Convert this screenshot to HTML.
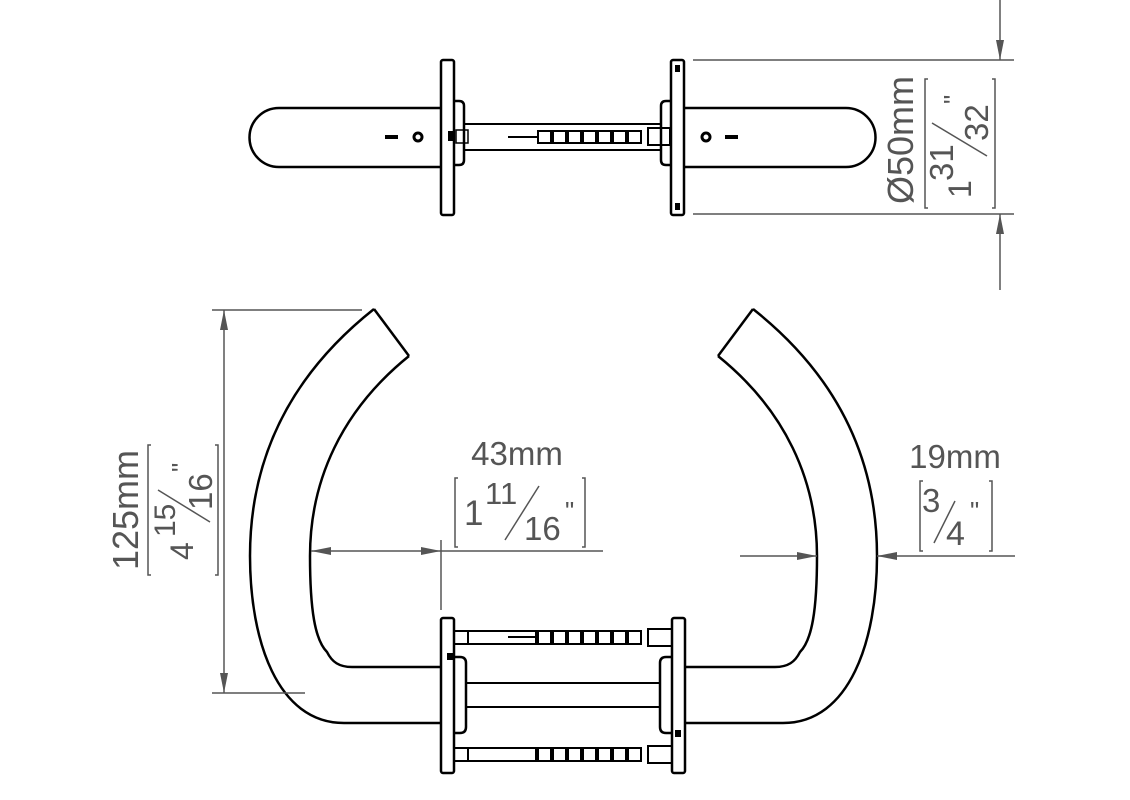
<!DOCTYPE html>
<html><head><meta charset="utf-8"><style>
html,body{margin:0;padding:0;background:#fff;}
svg{display:block;}
text{font-family:"Liberation Sans",sans-serif;fill:#555;}
</style></head><body>
<svg width="1130" height="800" viewBox="0 0 1130 800" xmlns="http://www.w3.org/2000/svg">
<defs>
<marker id="ar" viewBox="0 0 20 8" refX="20" refY="4" markerWidth="20" markerHeight="8" markerUnits="userSpaceOnUse" orient="auto"><path d="M0,0 L20,4 L0,8 z" fill="#555"/></marker>
</defs>

<!-- TOP VIEW -->
<g fill="none" stroke="#000" stroke-width="2.5">
  <path d="M441,108 L279,108 A29.5,29.5 0 0 0 279,167 L441,167"/>
  <path d="M684,108 L846,108 A29.5,29.5 0 0 1 846,167 L684,167"/>
  <rect x="441" y="60" width="13" height="155" rx="2"/>
  <rect x="671" y="60" width="13" height="155" rx="2"/>
  <path d="M454,101 L459,101 Q464,101 464,106 L464,160 Q464,165 459,165 L454,165"/>
  <path d="M671,101 L666,101 Q661,101 661,106 L661,160 Q661,165 666,165 L671,165"/>
  <line x1="464" y1="124" x2="661" y2="124" stroke-width="2"/>
  <line x1="464" y1="150" x2="661" y2="150" stroke-width="2"/>
  <rect x="456" y="130" width="12" height="13" stroke-width="1.5"/>
  <rect x="648" y="128" width="22" height="17" stroke-width="2"/>
  <line x1="508" y1="137" x2="538" y2="137" stroke-width="2"/>
  <g stroke-width="2">
    <rect x="538" y="131" width="13" height="12"/><rect x="553" y="131" width="13" height="12"/>
    <rect x="568" y="131" width="13" height="12"/><rect x="583" y="131" width="13" height="12"/>
    <rect x="598" y="131" width="13" height="12"/><rect x="613" y="131" width="13" height="12"/>
    <rect x="628" y="131" width="13" height="12"/>
  </g>
  <circle cx="418" cy="137" r="4" stroke-width="3"/>
  <circle cx="706" cy="137" r="4" stroke-width="3"/>
</g>
<g fill="#000">
  <rect x="385" y="135" width="13" height="4"/>
  <rect x="725" y="135" width="13" height="4"/>
  <rect x="448" y="131" width="6" height="10"/>
  <rect x="675" y="65" width="5" height="7"/>
  <rect x="675" y="203" width="5" height="7"/>
</g>

<!-- Ø50 dimension -->
<g stroke="#555" stroke-width="1.5" fill="none">
  <line x1="693" y1="60" x2="1014" y2="60"/>
  <line x1="693" y1="214" x2="1014" y2="214"/>
  <line x1="1000" y1="0" x2="1000" y2="60" marker-end="url(#ar)"/>
  <line x1="1000" y1="290" x2="1000" y2="214" marker-end="url(#ar)"/>
  <path d="M928,79 L925,79 L925,208 L928,208"/>
  <path d="M992,79 L995,79 L995,208 L992,208"/>
  <line x1="932" y1="123" x2="987" y2="156"/>
</g>
<text transform="translate(913,140) rotate(-90)" text-anchor="middle" font-size="36">Ø50mm</text>
<text transform="translate(971,198) rotate(-90)" font-size="32">1</text>
<text transform="translate(953,181) rotate(-90)" font-size="33">31</text>
<text transform="translate(988,141) rotate(-90)" font-size="33">32</text>
<text transform="translate(962,104) rotate(-90)" font-size="26">"</text>

<!-- BOTTOM VIEW handles -->
<g fill="none" stroke="#000" stroke-width="2.5">
  <g>
    <path d="M753,309 C830,370 877,450 877,556 C877,640 850,723 783,723 L686,723"/>
    <path d="M718,356 C785,410 817,480 817,556 C817,610 812,640 800,652 C795,662 788,667 775,667 L686,667"/>
    <path d="M753,309 L718,356"/>
  </g>
  <g transform="translate(1127,0) scale(-1,1)">
    <path d="M753,309 C830,370 877,450 877,556 C877,640 850,723 783,723 L686,723"/>
    <path d="M718,356 C785,410 817,480 817,556 C817,610 812,640 800,652 C795,662 788,667 775,667 L686,667"/>
    <path d="M753,309 L718,356"/>
  </g>
  <rect x="441" y="618" width="13" height="155" rx="2" fill="#fff"/>
  <rect x="672" y="618" width="13" height="155" rx="2" fill="#fff"/>
  <path d="M454,657 L460,657 Q466,657 466,663 L466,727 Q466,733 460,733 L454,733"/>
  <path d="M672,657 L666,657 Q660,657 660,663 L660,727 Q660,733 666,733 L672,733"/>
  <line x1="466" y1="683" x2="660" y2="683" stroke-width="2"/>
  <line x1="466" y1="707" x2="660" y2="707" stroke-width="2"/>
  <g stroke-width="2">
    <rect x="454" y="631" width="14" height="13"/>
    <rect x="468" y="631" width="68" height="13"/>
    <rect x="648" y="629" width="24" height="17"/>
    <rect x="454" y="748" width="14" height="13"/>
    <rect x="468" y="748" width="68" height="13"/>
    <rect x="648" y="746" width="24" height="17"/>
  </g>
  <line x1="508" y1="637" x2="538" y2="637" stroke-width="2"/>
  <g stroke-width="2">
    <rect x="538" y="631" width="13" height="13"/><rect x="553" y="631" width="13" height="13"/>
    <rect x="568" y="631" width="13" height="13"/><rect x="583" y="631" width="13" height="13"/>
    <rect x="598" y="631" width="13" height="13"/><rect x="613" y="631" width="13" height="13"/>
    <rect x="628" y="631" width="13" height="13"/>
    <rect x="538" y="748" width="13" height="13"/><rect x="553" y="748" width="13" height="13"/>
    <rect x="568" y="748" width="13" height="13"/><rect x="583" y="748" width="13" height="13"/>
    <rect x="598" y="748" width="13" height="13"/><rect x="613" y="748" width="13" height="13"/>
    <rect x="628" y="748" width="13" height="13"/>
  </g>
</g>
<g fill="#000">
  <rect x="447" y="653" width="6" height="7"/>
  <rect x="675" y="730" width="6" height="7"/>
</g>

<g stroke="#555" stroke-width="1.5" fill="none">
  <line x1="212" y1="310" x2="362" y2="310"/>
  <line x1="212" y1="693" x2="305" y2="693"/>
  <line x1="224" y1="420" x2="224" y2="310" marker-end="url(#ar)"/>
  <line x1="224" y1="600" x2="224" y2="693" marker-end="url(#ar)"/>
  <line x1="224" y1="420" x2="224" y2="600"/>
  <path d="M151,445 L148,445 L148,575 L151,575"/>
  <path d="M215,445 L218,445 L218,575 L215,575"/>
  <line x1="158" y1="490" x2="210" y2="522"/>
  <line x1="441" y1="540" x2="441" y2="610"/>
  <line x1="360" y1="551" x2="311" y2="551" marker-end="url(#ar)"/>
  <line x1="380" y1="551" x2="441" y2="551" marker-end="url(#ar)"/>
  <line x1="360" y1="551" x2="380" y2="551"/>
  <line x1="441" y1="551" x2="603" y2="551"/>
  <path d="M458,478 L455,478 L455,547 L458,547"/>
  <path d="M582,478 L585,478 L585,547 L582,547"/>
  <line x1="505" y1="540" x2="539" y2="486"/>
  <line x1="740" y1="556" x2="817" y2="556" marker-end="url(#ar)"/>
  <line x1="1015" y1="556" x2="877" y2="556" marker-end="url(#ar)"/>
  <path d="M923,481 L920,481 L920,551 L923,551"/>
  <path d="M989,481 L992,481 L992,551 L989,551"/>
  <line x1="934" y1="543" x2="955" y2="501"/>
</g>
<text transform="translate(138,510) rotate(-90)" text-anchor="middle" font-size="36">125mm</text>
<text transform="translate(193,560) rotate(-90)" font-size="32">4</text>
<text transform="translate(175,537) rotate(-90)" font-size="30">15</text>
<text transform="translate(212,510) rotate(-90)" font-size="33">16</text>
<text transform="translate(190,472) rotate(-90)" font-size="26">"</text>

<text x="517" y="465" text-anchor="middle" font-size="33">43mm</text>
<text x="464" y="525" font-size="35">1</text>
<text x="485" y="504" font-size="31">11</text>
<text x="524" y="540" font-size="33">16</text>
<text x="565" y="520" font-size="26">"</text>

<text x="955" y="468" text-anchor="middle" font-size="33">19mm</text>
<text x="922" y="512" font-size="33">3</text>
<text x="946" y="545" font-size="34">4</text>
<text x="970" y="520" font-size="26">"</text>
</svg>
</body></html>
